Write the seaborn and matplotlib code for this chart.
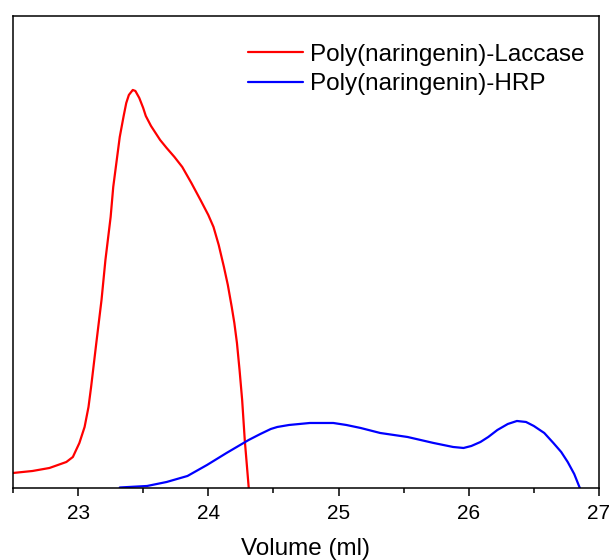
import pandas as pd
import seaborn as sns
import matplotlib
matplotlib.use("Agg")
import matplotlib.pyplot as plt
from matplotlib.ticker import MultipleLocator

# ---------------------------------------------------------------------------
# Data (volume in ml, signal in arbitrary units)
# ---------------------------------------------------------------------------
laccase_volume = [22.5, 22.65, 22.78, 22.91, 22.96, 23.01, 23.05, 23.08, 23.10,
                  23.14, 23.18, 23.21, 23.25, 23.27, 23.32, 23.35, 23.37, 23.39,
                  23.42, 23.44, 23.47, 23.50, 23.52, 23.56, 23.59, 23.63, 23.68,
                  23.74, 23.80, 23.87, 23.94, 24.00, 24.04, 24.08, 24.12, 24.15,
                  24.18, 24.20, 24.22, 24.24, 24.26, 24.28, 24.31, 24.32]
laccase_signal = [15, 17, 20, 26, 31, 45, 61, 81, 101,
                  145, 188, 228, 271, 301, 351, 372, 385, 393,
                  398, 397, 390, 380, 372, 362, 356, 348, 340,
                  331, 321, 305, 288, 273, 261, 243, 221, 203,
                  181, 165, 145, 118, 88, 48, 1, -10]

hrp_volume = [23.32, 23.53, 23.68, 23.84, 23.99, 24.14, 24.31, 24.40, 24.48,
              24.53, 24.62, 24.70, 24.78, 24.86, 24.96, 25.06, 25.17, 25.32,
              25.53, 25.73, 25.88, 25.96, 26.02, 26.09, 26.15, 26.22, 26.30,
              26.37, 26.44, 26.50, 26.58, 26.65, 26.71, 26.76, 26.81, 26.85, 26.87]
hrp_signal = [0.5, 2, 6, 12, 23, 35, 48, 54, 59,
              61, 63, 64, 65, 65, 65, 63, 60, 55,
              51, 45, 41, 40, 42, 46, 51, 58, 64,
              67, 66, 62, 55, 45, 36, 26, 14, 1, -5]

series_names = ["Poly(naringenin)-Laccase", "Poly(naringenin)-HRP"]
series_colors = ["#ff0000", "#0000ff"]

df = pd.concat([
    pd.DataFrame({"volume": laccase_volume, "signal": laccase_signal, "sample": series_names[0]}),
    pd.DataFrame({"volume": hrp_volume, "signal": hrp_signal, "sample": series_names[1]}),
])

# ---------------------------------------------------------------------------
# Plot
# ---------------------------------------------------------------------------
sns.set_style("ticks")
plt.rcParams["font.family"] = ["Liberation Sans", "DejaVu Sans"]
plt.rcParams["text.color"] = "black"
plt.rcParams["xtick.color"] = "black"
plt.rcParams["axes.labelcolor"] = "black"

fig = plt.figure(figsize=(6.09, 5.6), dpi=100)
ax = fig.add_axes([0.0213, 0.1286, 0.9622, 0.8429])

sns.lineplot(
    data=df, x="volume", y="signal", hue="sample",
    palette=dict(zip(series_names, series_colors)),
    sort=False, estimator=None, linewidth=1.6, ax=ax,
)

ax.set_xlim(22.5, 27)
ax.set_ylim(0, 472)
ax.xaxis.set_major_locator(MultipleLocator(1))
ax.xaxis.set_minor_locator(MultipleLocator(0.5))
ax.tick_params(axis="x", which="major", direction="out", length=6, width=1.1,
               labelsize=15, pad=5.5, colors="black")
ax.tick_params(axis="x", which="minor", direction="out", length=3.5, width=1.1)
ax.set_yticks([])
ax.set_ylabel("")
ax.set_xlabel("Volume (ml)", fontsize=17.5, labelpad=11)
for side in ["left", "right", "top", "bottom"]:
    ax.spines[side].set_visible(True)
    ax.spines[side].set_linewidth(1.1)
    ax.spines[side].set_color("black")

leg = ax.legend(
    title=None, frameon=False, fontsize=17.5,
    loc="upper right", bbox_to_anchor=(1.0, 0.972),
    handlelength=2.25, handletextpad=0.3, labelspacing=0.3,
    borderaxespad=0.2,
)
for txt in leg.get_texts():
    txt.set_color("black")

fig.savefig("out.png", dpi=100)
